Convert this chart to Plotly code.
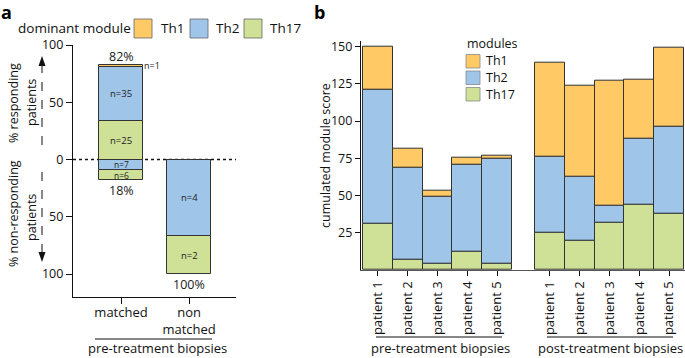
import plotly.graph_objects as go

# ---------------- data ----------------
modules = ["Th1", "Th2", "Th17"]
colors = {"Th1": "#FFC966", "Th2": "#9FC6E9", "Th17": "#CEE197"}

# panel a: counts of patients by dominant module
groups_a = ["matched", "non<br>matched"]
resp_Th1 = [1, 0]
resp_Th2 = [35, 0]
resp_Th17 = [25, 0]
nonresp_Th2 = [7, 4]
nonresp_Th17 = [6, 2]

# panel b: cumulated module scores
patients = ["patient 1", "patient 2", "patient 3", "patient 4", "patient 5"]
pre_Th1 = [29, 12.5, 3.5, 4.7, 1.5]
pre_Th2 = [90, 62, 45, 59, 70.5]
pre_Th17 = [31, 7, 4.5, 12, 4.5]
post_Th1 = [63, 61.5, 83.5, 40, 53]
post_Th2 = [51, 43, 11.5, 44, 58.5]
post_Th17 = [25, 19.5, 32, 44, 37.5]

W, H = 685, 358
FONT = "Open Sans"
LINE = "#333333"


def px(x):
    return x / W


def py(y):
    return 1 - y / H


fig = go.Figure()

# ---------------- panel a ----------------
totals = [r1 + r2 + r3 + n2 + n17 for r1, r2, r3, n2, n17 in
          zip(resp_Th1, resp_Th2, resp_Th17, nonresp_Th2, nonresp_Th17)]


def pct(vals):
    return [100.0 * v / t for v, t in zip(vals, totals)]


bar_w = 0.65
for name, vals, sign in [("Th17", resp_Th17, 1), ("Th2", resp_Th2, 1), ("Th1", resp_Th1, 1),
                         ("Th2", nonresp_Th2, -1), ("Th17", nonresp_Th17, -1)]:
    fig.add_trace(go.Bar(
        x=groups_a, y=[sign * p for p in pct(vals)], width=bar_w,
        marker=dict(color=colors[name], line=dict(color=LINE, width=1)),
        xaxis="x", yaxis="y", showlegend=False, hoverinfo="skip"))

annots = []
# n labels inside bars
for gi, g in enumerate(groups_a):
    base = 0.0
    for vals, lab_out in [(resp_Th17, False), (resp_Th2, False), (resp_Th1, True)]:
        v = pct(vals)[gi]
        if vals[gi] > 0:
            if lab_out:
                annots.append(dict(x=g, y=base + v, xref="x", yref="y", text=f"n={vals[gi]}",
                                   showarrow=False, xanchor="left", xshift=bar_w * 68 / 2 - 1,
                                   font=dict(size=9, color="#222")))
            else:
                annots.append(dict(x=g, y=base + v / 2, xref="x", yref="y", text=f"n={vals[gi]}",
                                   showarrow=False, font=dict(size=9.5, color="#222")))
        base += v
    if base > 0:
        annots.append(dict(x=g, y=base, xref="x", yref="y", text=f"{round(base)}%",
                           showarrow=False, yanchor="bottom", yshift=-2,
                           font=dict(size=12.5, color="#222")))
    base = 0.0
    for vals in [nonresp_Th2, nonresp_Th17]:
        v = pct(vals)[gi]
        if vals[gi] > 0:
            small = v < 15
            annots.append(dict(x=g, y=-(base + v / 2), xref="x", yref="y", text=f"n={vals[gi]}",
                               showarrow=False, font=dict(size=8.5 if small else 9.5, color="#222"),
                               height=9 if small else None))
        base += v
    annots.append(dict(x=g, y=-base, xref="x", yref="y", text=f"{round(base)}%",
                       showarrow=False, yanchor="top", yshift=0,
                       font=dict(size=12.5, color="#222")))

# ---------------- panel b ----------------
gap = 0.77
pre_x = [i for i in range(len(patients))]
post_x = [len(patients) + gap + i for i in range(len(patients))]
for name, pre_v, post_v in [("Th17", pre_Th17, post_Th17), ("Th2", pre_Th2, post_Th2),
                            ("Th1", pre_Th1, post_Th1)]:
    fig.add_trace(go.Bar(
        x=pre_x + post_x, y=pre_v + post_v, width=1,
        marker=dict(color=colors[name], line=dict(color=LINE, width=1)),
        xaxis="x2", yaxis="y2", showlegend=False, hoverinfo="skip"))

shapes = []
# zero dotted line panel a
shapes.append(dict(type="line", xref="paper", yref="y", x0=px(73), x1=px(236), y0=0, y1=0,
                   line=dict(color="#111", width=1.6, dash="dot"), layer="below"))

# dashed arrows panel a
shapes.append(dict(type="line", xref="paper", yref="paper", x0=px(42), x1=px(42), y0=py(145), y1=py(64),
                   line=dict(color="#111", width=1, dash="dash")))
shapes.append(dict(type="path", xref="paper", yref="paper",
                   path=f"M {px(38.5)},{py(66)} L {px(45.5)},{py(66)} L {px(42)},{py(56)} Z",
                   fillcolor="#111", line=dict(width=0)))
shapes.append(dict(type="line", xref="paper", yref="paper", x0=px(42), x1=px(42), y0=py(172), y1=py(254),
                   line=dict(color="#111", width=1, dash="dash")))
shapes.append(dict(type="path", xref="paper", yref="paper",
                   path=f"M {px(38.5)},{py(252)} L {px(45.5)},{py(252)} L {px(42)},{py(262)} Z",
                   fillcolor="#111", line=dict(width=0)))

# group lines
for x0, x1, y in [(95, 212, 339), (376, 502, 337), (547, 673, 337)]:
    shapes.append(dict(type="line", xref="paper", yref="paper", x0=px(x0), x1=px(x1), y0=py(y), y1=py(y),
                       line=dict(color="#111", width=1)))

# legend panel a
annots.append(dict(x=px(16), y=py(28), xref="paper", yref="paper", text="dominant module",
                   showarrow=False, xanchor="left", font=dict(size=13.5, color="#111")))
for name, bx, tx in [("Th1", 134, 159), ("Th2", 190, 214), ("Th17", 244, 268)]:
    shapes.append(dict(type="rect", xref="paper", yref="paper", x0=px(bx), x1=px(bx + 18),
                       y0=py(38), y1=py(19), fillcolor=colors[name], line=dict(color="#666", width=0.8)))
    annots.append(dict(x=px(tx), y=py(28), xref="paper", yref="paper", text=name, showarrow=False,
                       xanchor="left", font=dict(size=13.5, color="#111")))

# legend panel b
annots.append(dict(x=px(465), y=py(44), xref="paper", yref="paper", text="modules",
                   showarrow=False, xanchor="left", font=dict(size=12.5, color="#111")))
for i, name in enumerate(modules):
    yc = 61 + 16.5 * i
    shapes.append(dict(type="rect", xref="paper", yref="paper", x0=px(466), x1=px(480),
                       y0=py(yc + 7), y1=py(yc - 6.5), fillcolor=colors[name],
                       line=dict(color="#888", width=0.8)))
    annots.append(dict(x=px(484), y=py(yc), xref="paper", yref="paper", text=name, showarrow=False,
                       xanchor="left", font=dict(size=12.5, color="#111")))

# axis titles / panel letters / group texts
annots += [
    dict(x=px(6), y=py(12), xref="paper", yref="paper", text="<b>a</b>", showarrow=False,
         font=dict(size=18, color="#000")),
    dict(x=px(319), y=py(12), xref="paper", yref="paper", text="<b>b</b>", showarrow=False,
         font=dict(size=18, color="#000")),
    dict(x=px(13), y=py(103), xref="paper", yref="paper", text="% responding", textangle=-90,
         showarrow=False, font=dict(size=12.5, color="#111")),
    dict(x=px(31), y=py(103), xref="paper", yref="paper", text="patients", textangle=-90,
         showarrow=False, font=dict(size=12.5, color="#111")),
    dict(x=px(13), y=py(214), xref="paper", yref="paper", text="% non-responding", textangle=-90,
         showarrow=False, font=dict(size=12.5, color="#111")),
    dict(x=px(31), y=py(218), xref="paper", yref="paper", text="patients", textangle=-90,
         showarrow=False, font=dict(size=12.5, color="#111")),
    dict(x=px(157), y=py(348), xref="paper", yref="paper", text="pre-treatment biopsies",
         showarrow=False, font=dict(size=13, color="#111")),
    dict(x=px(440), y=py(348), xref="paper", yref="paper", text="pre-treatment biopsies",
         showarrow=False, font=dict(size=13, color="#111")),
    dict(x=px(610), y=py(348), xref="paper", yref="paper", text="post-treatment biopsies",
         showarrow=False, font=dict(size=13, color="#111")),
    dict(x=px(325), y=py(156), xref="paper", yref="paper", text="cumulated module score",
         textangle=-90, showarrow=False, font=dict(size=12.5, color="#111")),
]
for a in annots:
    a.setdefault("xanchor", "center")
    a.setdefault("yanchor", "middle")
    if a.get("height") is None:
        a.pop("height", None)

axis_common = dict(showgrid=False, zeroline=False, showline=True, linecolor="#111", linewidth=1.2,
                   ticks="outside", tickcolor="#111", tickwidth=1.2, ticklen=5, automargin=False,
                   tickfont=dict(size=12.5, color="#111", family=FONT))

fig.update_layout(
    template="none",
    width=W, height=H, margin=dict(l=0, r=0, t=0, b=0, pad=0, autoexpand=False),
    paper_bgcolor="white", plot_bgcolor="white",
    font=dict(family=FONT, color="#111"),
    barmode="relative", bargap=0,
    xaxis=dict(domain=[px(73), px(236)], anchor="y", type="category",
               range=[-0.706, 1.69], ticklabelstandoff=-3,
               **{**axis_common, "ticklen": 6,
                  "tickfont": dict(size=13, color="#111", family=FONT)}),
    yaxis=dict(domain=[py(297), py(45)], anchor="x", range=[-120, 100],
               tickvals=[100, 50, 0, -50, -100], ticktext=["100", "50", "0", "50", "100"],
               **{**axis_common, "ticklen": 6}),
    xaxis2=dict(domain=[px(361), 1.0], anchor="y2", range=[-0.567, 10.30],
                tickvals=pre_x + post_x, ticktext=patients + patients, tickangle=-90,
                **{**axis_common, "linecolor": "#555",
                   "tickfont": dict(size=13, color="#111", family=FONT)}),
    yaxis2=dict(domain=[py(270), py(40.7)], anchor="x2", range=[0, 154],
                tickvals=[25, 50, 75, 100, 125, 150], **axis_common),
    shapes=shapes, annotations=annots,
)

fig.write_html("out.html", config={"displayModeBar": False},
               post_script="document.body.style.margin='0px';document.body.style.overflow='hidden';")
